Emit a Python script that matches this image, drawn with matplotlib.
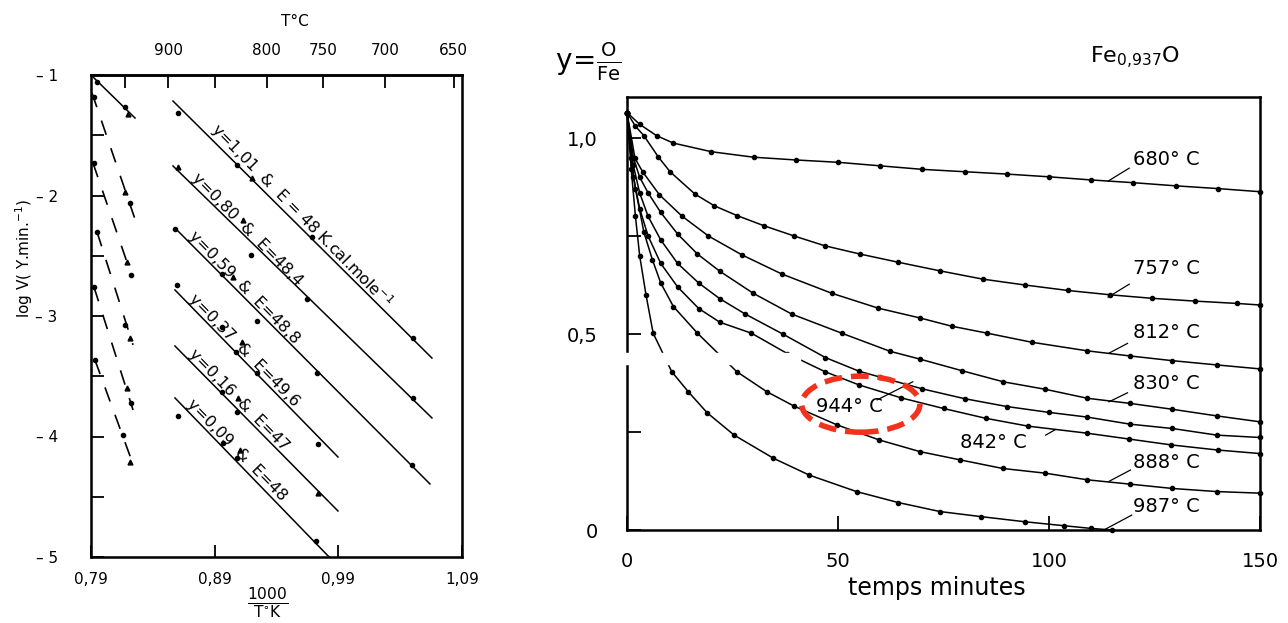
import matplotlib.pyplot as plt
from matplotlib.patches import Ellipse, Rectangle

plt.rcParams['font.family'] = ['DejaVu Sans']
plt.rcParams['mathtext.fontset'] = 'dejavusans'

# ---------------- left panel : log V vs 1000/T ----------------
inv_ticks = [0.79, 0.89, 0.99, 1.09]
inv_labels = ['0,79', '0,89', '0,99', '1,09']
temp_ticks = [950, 900, 850, 800, 750, 700, 650]
temp_labels = ['', '900', '', '800', '750', '700', '650']
logv_ticks = [-1, -2, -3, -4, -5]
logv_labels = ['– 1', '– 2', '– 3', '– 4', '– 5']

# fitted straight lines (one per composition y)
fit_names = ['y=1,01  &  E = 48 K.cal.mole$^{-1}$', 'y=0,80  &  E=48,4', 'y=0,59  &  E=48,8',
             'y=0,37  &  E=49,6', 'y=0,16  &  E=47', 'y=0,09  &  E=48']
fit_x0 = [0.8563, 0.8563, 0.8579, 0.8579, 0.8579, 0.8579]
fit_y0 = [-1.216, -1.755, -2.270, -2.784, -3.249, -3.680]
fit_x1 = [1.0657, 1.0657, 1.0641, 0.9897, 0.9897, 0.9833]
fit_y1 = [-3.349, -3.846, -4.394, -4.170, -4.618, -5.008]
label_x = [0.883, 0.869, 0.867, 0.867, 0.867, 0.865]

# measured points on the fitted lines
pts_x = [0.8604, 0.9081, 0.9687, 1.0504, 0.9193, 0.9646, 1.0504, 0.8579, 0.8959, 0.9242,
         0.9727, 1.0496, 0.8595, 0.8959, 0.9072, 0.9242, 0.9736, 0.8959, 0.9081, 0.8604,
         0.8967, 0.9081, 0.9719]
pts_y = [-1.315, -1.747, -2.344, -3.183, -2.494, -2.859, -3.680, -2.278, -2.651, -3.041,
         -3.473, -4.237, -2.743, -3.091, -3.299, -3.473, -4.062, -3.631, -3.797, -3.830,
         -4.054, -4.178, -4.867]
tri_x = [0.9202, 0.8604, 0.9129, 0.9048, 0.9121, 0.9089, 0.9736, 0.9105]
tri_y = [-1.855, -1.763, -2.203, -2.676, -3.216, -3.680, -4.469, -4.112]

# high temperature lines (dashed) near the left axis
dash_x0 = [0.7908, 0.7916, 0.7949, 0.7924, 0.7932]
dash_y0 = [-1.149, -1.730, -2.303, -2.759, -3.365]
dash_x1 = [0.8272, 0.8232, 0.8240, 0.8240, 0.8248]
dash_y1 = [-2.245, -2.676, -3.240, -3.780, -4.253]
short_x = [0.79, 0.8256]
short_y = [-1.0, -1.357]
dpts_x = [0.7949, 0.8175, 0.7924, 0.8215, 0.7924, 0.8223, 0.7949, 0.8175, 0.7924, 0.8223,
          0.7932, 0.8159]
dpts_y = [-1.058, -1.266, -1.183, -2.062, -1.730, -2.660, -2.303, -3.075, -2.759, -3.722,
          -3.365, -3.988]
dtri_x = [0.8199, 0.8175, 0.8191, 0.8215, 0.8191, 0.8215]
dtri_y = [-1.324, -1.971, -2.552, -3.183, -3.598, -4.212]

# ---------------- right panel : y = O/Fe vs time ----------------
temps = ['680', '757', '812', '830', '944', '842', '888', '987']
t680 = [0, 3, 7, 11, 20, 30, 40, 50, 60, 70, 80, 90, 100, 110, 120, 130, 140, 150]
y680 = [1.065, 1.035, 1.006, 0.987, 0.965, 0.951, 0.944, 0.938, 0.929, 0.920, 0.914, 0.908,
        0.901, 0.893, 0.886, 0.878, 0.871, 0.863]
t757 = [0, 2, 4, 7.4, 10.2, 16.1, 20.7, 26.1, 32.5, 39.6, 46.9, 55.2, 64.3, 74.2, 84.3, 94.3,
        104.5, 114.5, 124.5, 134.5, 144.5, 150]
y757 = [1.065, 1.03, 1.006, 0.952, 0.914, 0.857, 0.827, 0.802, 0.776, 0.750, 0.725, 0.704,
        0.683, 0.661, 0.640, 0.625, 0.611, 0.600, 0.591, 0.584, 0.578, 0.574]
t812 = [0, 1.9, 3.7, 7.7, 13.0, 19.3, 27.2, 36.7, 48.5, 59.5, 69.4, 76.9, 85.4, 95.9, 109.1,
        119.2, 129.2, 139.9, 150]
y812 = [1.065, 0.948, 0.914, 0.855, 0.801, 0.750, 0.702, 0.653, 0.604, 0.566, 0.541, 0.520,
        0.502, 0.479, 0.457, 0.444, 0.432, 0.421, 0.411]
t830 = [0, 1.5, 3, 5, 8, 12, 16.7, 22, 29.9, 39, 50.9, 62.3, 69.4, 79.5, 89.2, 99.1, 109.1,
        119.2, 129.2, 139.8, 150]
y830 = [1.065, 0.95, 0.90, 0.86, 0.81, 0.755, 0.704, 0.66, 0.604, 0.551, 0.502, 0.456, 0.436,
        0.406, 0.378, 0.359, 0.336, 0.323, 0.308, 0.291, 0.276]
t944 = [0, 1.5, 3, 5, 8, 12, 17, 22, 28, 36.9, 47, 55, 60, 70, 80, 90, 100, 109.1, 119.2,
        129.2, 139.8, 150]
y944 = [1.065, 0.93, 0.86, 0.80, 0.74, 0.68, 0.63, 0.59, 0.551, 0.500, 0.44, 0.405, 0.39,
        0.36, 0.335, 0.315, 0.30, 0.288, 0.27, 0.259, 0.242, 0.236]
t842 = [0, 1.5, 3, 5, 8, 12, 17, 22, 29.5, 38, 46.9, 55, 65, 75, 85, 95, 109, 119, 129, 140,
        150]
y842 = [1.065, 0.90, 0.82, 0.75, 0.68, 0.62, 0.565, 0.53, 0.502, 0.45, 0.404, 0.37, 0.337,
        0.31, 0.285, 0.265, 0.247, 0.232, 0.217, 0.204, 0.195]
t888 = [0, 1, 2, 4, 6, 8, 11, 16.7, 26, 33.1, 39.6, 49.8, 59.7, 69.4, 78.9, 89, 99.1, 109.1,
        119.2, 129.2, 139.8, 150]
y888 = [1.065, 0.95, 0.87, 0.76, 0.69, 0.63, 0.57, 0.502, 0.404, 0.353, 0.316, 0.268, 0.230,
        0.200, 0.179, 0.157, 0.145, 0.128, 0.117, 0.106, 0.098, 0.094]
t987 = [0, 1, 2, 3, 4.5, 6.2, 10.6, 14.5, 19, 25.4, 34.7, 43.2, 54.4, 64.3, 74.2, 84, 94.3,
        103.5, 110, 115]
y987 = [1.065, 0.92, 0.80, 0.70, 0.60, 0.502, 0.404, 0.353, 0.299, 0.242, 0.183, 0.140, 0.098,
        0.070, 0.047, 0.034, 0.021, 0.011, 0.004, 0.0]
curves_t = [t680, t757, t812, t830, t944, t842, t888, t987]
curves_y = [y680, y757, y812, y830, y944, y842, y888, y987]

# label placement for each curve: text anchor and leader line
lab_t = [119.9, 119.9, 119.9, 119.9, 44.8, 78.9, 119.9, 119.9]
lab_v = [0.944, 0.668, 0.503, 0.375, 0.314, 0.222, 0.171, 0.059]
lead_t0 = [114.0, 114.0, 114.2, 114.2, 59.3, 99.2, 114.2, 113.0]
lead_v0 = [0.890, 0.594, 0.451, 0.327, 0.332, 0.242, 0.124, 0.0]
lead_t1 = [119.0, 119.0, 118.6, 118.6, 67.7, 101.5, 119.3, 119.6]
lead_v1 = [0.923, 0.627, 0.476, 0.350, 0.378, 0.256, 0.153, 0.038]

fig = plt.figure(figsize=(12.88, 6.23), dpi=100)

# ---- left
ax = fig.add_axes([91 / 1288, 1 - 557 / 623, 371 / 1288, 482 / 623])
ax.set_xlim(0.79, 1.09)
ax.set_ylim(-5, -1)
for x0, y0, x1, y1, name, lx in zip(fit_x0, fit_y0, fit_x1, fit_y1, fit_names, label_x):
    ax.plot([x0, x1], [y0, y1], color='black', lw=1.1)
    ly = y0 + (y1 - y0) * (lx - x0) / (x1 - x0)
    ax.text(lx, ly, name, rotation=-45.5, rotation_mode='anchor', ha='left', va='bottom',
            fontsize=11.5)
ax.plot(pts_x, pts_y, 'o', color='black', ms=3)
ax.plot(tri_x, tri_y, '^', color='black', ms=3.5)
for x0, y0, x1, y1 in zip(dash_x0, dash_y0, dash_x1, dash_y1):
    ax.plot([x0, x1], [y0, y1], color='black', lw=1.2, dashes=(9, 8.5))
ax.plot(short_x, short_y, color='black', lw=1.1)
ax.plot(dpts_x, dpts_y, 'o', color='black', ms=3)
ax.plot(dtri_x, dtri_y, '^', color='black', ms=3.5)

ax.set_xticks(inv_ticks)
ax.set_xticklabels(inv_labels, fontsize=11)
ax.set_yticks(logv_ticks)
ax.set_yticklabels(logv_labels, fontsize=11)
ax.set_yticks([-1.5, -2.5, -3.5, -4.5], minor=True)
ax.tick_params(axis='y', which='major', direction='in', length=9, width=1.3, pad=24)
ax.tick_params(axis='y', which='minor', direction='in', length=9, width=1.3)
ax.tick_params(axis='x', direction='in', length=9, width=1.3, pad=11)
for s in ax.spines.values():
    s.set_linewidth(1.8)

top = ax.twiny()
top.set_xlim(0.79, 1.09)
top.set_xticks([1000 / (T + 273) for T in temp_ticks])
top.set_xticklabels(temp_labels, fontsize=11)
top.tick_params(axis='x', direction='in', length=9, width=1.3, pad=12)
top.spines['top'].set_linewidth(1.8)

fig.text(295 / 1288, 1 - 22 / 623, 'T°C', ha='center', va='center', fontsize=11)
fig.text(24 / 1288, 1 - 258 / 623, 'log V( Y.min.$^{-1}$)', rotation=90, ha='center',
         va='center', fontsize=11)
fig.text(268 / 1288, 1 - 603 / 623, r'$\frac{1000}{\mathrm{T}^{\circ}\mathrm{K}}$', ha='center',
         va='center', fontsize=16)

# ---- right
bx = fig.add_axes([627 / 1288, 1 - 530 / 623, 633 / 1288, 433 / 623])
bx.set_xlim(0, 150)
bx.set_ylim(0, 1.1046)
for tt, yy in zip(curves_t, curves_y):
    bx.plot(tt, yy, color='black', lw=1.1, marker='o', ms=3, clip_on=False)
for name, lt, lv, a0, b0, a1, b1 in zip(temps, lab_t, lab_v, lead_t0, lead_v0, lead_t1, lead_v1):
    bx.plot([a0, a1], [b0, b1], color='black', lw=0.9)
    bx.text(lt, lv, name + '° C', ha='left', va='center', fontsize=14)

bx.add_patch(Ellipse((55.4, 0.321), 28, 0.143, fill=False, edgecolor='#f2321c', lw=4,
                     linestyle=(0, (3.2, 1.6)), zorder=5))

bx.set_xticks([0, 50, 100, 150])
bx.set_xticklabels(['0', '50', '100', '150'], fontsize=14)
bx.set_yticks([0, 0.25, 0.5, 0.75, 1.0])
bx.set_yticklabels(['0', '', '0,5', '', '1,0'], fontsize=14)
bx.tick_params(axis='x', direction='in', length=10, width=1.3, pad=16)
bx.tick_params(axis='y', direction='in', length=10, width=1.3, pad=21)
for s in bx.spines.values():
    s.set_linewidth(1.8)
bx.text(0.49, -0.135, 'temps minutes', transform=bx.transAxes, ha='center', va='center',
        fontsize=17)

fig.text(555 / 1288, 1 - 62 / 623, r'$\mathrm{y}\!=\!\frac{\mathrm{O}}{\mathrm{Fe}}$',
         ha='left', va='center', fontsize=20)
fig.text(1090 / 1288, 1 - 58 / 623, r'$\mathrm{Fe}_{0{,}937}\mathrm{O}$', ha='left',
         va='center', fontsize=16)

# white scan band crossing the right panel
fig.add_artist(Rectangle((618 / 1288, 1 - 364 / 623), 182 / 1288, 11 / 623,
                         transform=fig.transFigure, color='white', zorder=10))

fig.savefig('out.png', dpi=100)
